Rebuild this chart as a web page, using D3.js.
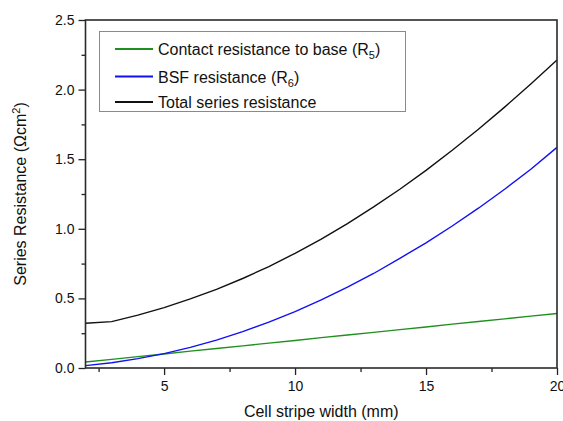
<!DOCTYPE html>
<html>
<head>
<meta charset="utf-8">
<script src="https://d3js.org/d3.v7.min.js"></script>
<style>
  body { margin: 0; background: #fff; }
  text { font-family: "Liberation Sans", Arial, sans-serif; fill: #111; }
</style>
</head>
<body>
<div id="chart"></div>
<script>
// Data
const width_mm = [2, 3, 4, 5, 6, 7, 8, 9, 10, 11, 12, 13, 14, 15, 16, 17, 18, 19, 20];
const contact = [0.043, 0.062, 0.082, 0.101, 0.121, 0.140, 0.159, 0.179, 0.198, 0.218,
                 0.237, 0.256, 0.276, 0.295, 0.315, 0.334, 0.353, 0.373, 0.392];
const bsf = [0.017, 0.038, 0.067, 0.103, 0.148, 0.200, 0.261, 0.329, 0.405, 0.490,
             0.581, 0.679, 0.788, 0.899, 1.020, 1.148, 1.284, 1.428, 1.585];
const total = [0.321, 0.333, 0.380, 0.434, 0.496, 0.565, 0.643, 0.729, 0.824, 0.926,
               1.037, 1.157, 1.284, 1.420, 1.564, 1.715, 1.874, 2.040, 2.213];
const xTicks = [5, 10, 15, 20];
const yTicks = [0, 0.5, 1.0, 1.5, 2.0, 2.5];

const series = [
  { name: "Contact resistance to base (R", sub: "5", values: contact, color: "#1f8f1f" },
  { name: "BSF resistance (R", sub: "6", values: bsf, color: "#1010f5" },
  { name: "Total series resistance", sub: null, values: total, color: "#111" }
];

const W = 563, H = 421;
const margin = { top: 20, right: 6, bottom: 53, left: 85.5 };
const w = W - margin.left - margin.right;
const h = H - margin.top - margin.bottom;

const svg = d3.select("#chart").append("svg")
  .attr("width", W).attr("height", H);
const g = svg.append("g")
  .attr("transform", `translate(${margin.left},${margin.top})`);

const x = d3.scaleLinear().domain([2, 20]).range([0, w]);
const y = d3.scaleLinear().domain([0, 2.5]).range([h, 0]);

// minor ticks
g.append("g")
  .attr("transform", `translate(0,${h})`)
  .call(d3.axisBottom(x).tickValues([2.5, 7.5, 12.5, 17.5]).tickSize(4).tickFormat(""))
  .call(a => a.select(".domain").remove());
g.append("g")
  .call(d3.axisLeft(y).tickValues([0.25, 0.75, 1.25, 1.75, 2.25]).tickSize(4).tickFormat(""))
  .call(a => a.select(".domain").remove());

// major axes
const xAxis = g.append("g")
  .attr("transform", `translate(0,${h})`)
  .call(d3.axisBottom(x).tickValues(xTicks).tickSize(7).tickPadding(6).tickFormat(d3.format("d")));
const yAxis = g.append("g")
  .call(d3.axisLeft(y).tickValues(yTicks).tickSize(7).tickPadding(4).tickFormat(d3.format(".1f")));

[xAxis, yAxis].forEach(a => {
  a.selectAll("text").style("font-size", "14px").style("fill", "#111");
  a.select(".domain").remove();
});
g.selectAll(".tick line").attr("stroke", "#222").attr("stroke-width", 1.3);

// lines
const line = d3.line()
  .x((d, i) => x(width_mm[i]))
  .y(d => y(d));

series.forEach(s => {
  g.append("path")
    .datum(s.values)
    .attr("fill", "none")
    .attr("stroke", s.color)
    .attr("stroke-width", 1.4)
    .attr("d", line);
});

// frame
g.append("rect")
  .attr("width", w).attr("height", h)
  .attr("fill", "none")
  .attr("stroke", "#2a2a2a")
  .attr("stroke-width", 1.6);

// legend
const legend = svg.append("g");
legend.append("rect")
  .attr("x", 99.5).attr("y", 31.5)
  .attr("width", 306).attr("height", 80)
  .attr("fill", "#fff")
  .attr("stroke", "#8a8a8a")
  .attr("stroke-width", 1);

const rowY = [49, 76.5, 102];
series.forEach((s, i) => {
  legend.append("line")
    .attr("x1", 115).attr("x2", 153)
    .attr("y1", rowY[i]).attr("y2", rowY[i])
    .attr("stroke", s.color)
    .attr("stroke-width", 1.8);
  const t = legend.append("text")
    .attr("x", 158).attr("y", rowY[i] + 6)
    .style("font-size", "16px")
    .text(s.name);
  if (s.sub) {
    t.append("tspan").attr("dy", 4).style("font-size", "11px").text(s.sub);
    t.append("tspan").attr("dy", -4).text(")");
  }
});

// axis titles
svg.append("text")
  .attr("x", margin.left + w / 2).attr("y", 417)
  .attr("text-anchor", "middle")
  .style("font-size", "16px")
  .text("Cell stripe width (mm)");

const yt = svg.append("text")
  .attr("transform", `translate(26,${margin.top + h / 2}) rotate(-90)`)
  .attr("text-anchor", "middle")
  .style("font-size", "16px")
  .text("Series Resistance (Ωcm");
yt.append("tspan").attr("dy", -6).style("font-size", "11px").text("2");
yt.append("tspan").attr("dy", 6).text(")");
</script>
</body>
</html>
